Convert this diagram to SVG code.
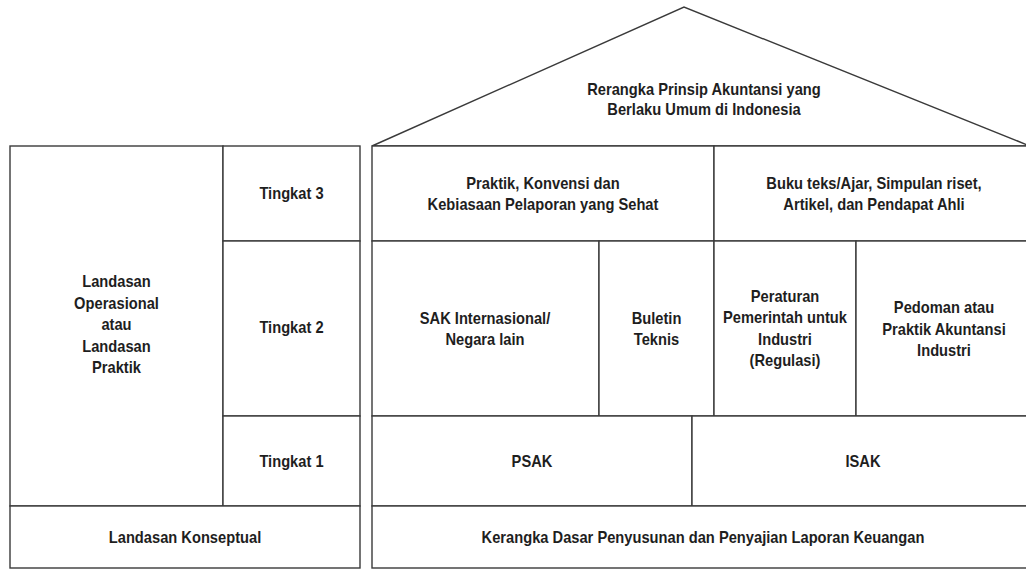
<svg xmlns="http://www.w3.org/2000/svg" width="1026" height="570" viewBox="0 0 1026 570">
<style>
.c{fill:#fff;stroke:#3a3a3a;stroke-width:1.4}
.t{font-family:"Liberation Sans",Arial,sans-serif;font-weight:bold;font-size:16.5px;fill:#1e1e1e;text-anchor:middle}
</style>
<rect width="1026" height="570" fill="#fff"/>
<g id="roof">
<polygon class="c" points="372,146 684,7 1030,146"/>
<text class="t" transform="translate(704 95) scale(.89 1)">Rerangka Prinsip Akuntansi yang</text>
<text class="t" transform="translate(704 114.5) scale(.89 1)">Berlaku Umum di Indonesia</text>
</g>
<g id="landasan-operasional">
<rect class="c" x="10" y="146" width="213" height="360"/>
<text class="t" transform="translate(116.5 287) scale(.89 1)">Landasan</text>
<text class="t" transform="translate(116.5 308.5) scale(.89 1)">Operasional</text>
<text class="t" transform="translate(116.5 330) scale(.89 1)">atau</text>
<text class="t" transform="translate(116.5 351.5) scale(.89 1)">Landasan</text>
<text class="t" transform="translate(116.5 373) scale(.89 1)">Praktik</text>
</g>
<g id="tingkat-3">
<rect class="c" x="223" y="146" width="137" height="95"/>
<text class="t" transform="translate(291.5 199) scale(.89 1)">Tingkat 3</text>
</g>
<g id="tingkat-2">
<rect class="c" x="223" y="241" width="137" height="175"/>
<text class="t" transform="translate(291.5 333) scale(.89 1)">Tingkat 2</text>
</g>
<g id="tingkat-1">
<rect class="c" x="223" y="416" width="137" height="90"/>
<text class="t" transform="translate(291.5 466.5) scale(.89 1)">Tingkat 1</text>
</g>
<g id="landasan-konseptual">
<rect class="c" x="10" y="506" width="350" height="62"/>
<text class="t" transform="translate(185 542.5) scale(.89 1)">Landasan Konseptual</text>
</g>
<g id="praktik">
<rect class="c" x="372" y="146" width="342" height="95"/>
<text class="t" transform="translate(543 189) scale(.89 1)">Praktik, Konvensi dan</text>
<text class="t" transform="translate(543 210) scale(.89 1)">Kebiasaan Pelaporan yang Sehat</text>
</g>
<g id="buku-teks">
<rect class="c" x="714" y="146" width="320" height="95"/>
<text class="t" transform="translate(874 189) scale(.89 1)">Buku teks/Ajar, Simpulan riset,</text>
<text class="t" transform="translate(874 210) scale(.89 1)">Artikel, dan Pendapat Ahli</text>
</g>
<g id="sak-internasional">
<rect class="c" x="372" y="241" width="227" height="175"/>
<text class="t" transform="translate(485 324) scale(.89 1)">SAK Internasional/</text>
<text class="t" transform="translate(485 345) scale(.89 1)">Negara lain</text>
</g>
<g id="buletin-teknis">
<rect class="c" x="599" y="241" width="115" height="175"/>
<text class="t" transform="translate(656.5 323.5) scale(.89 1)">Buletin</text>
<text class="t" transform="translate(656.5 344.5) scale(.89 1)">Teknis</text>
</g>
<g id="peraturan">
<rect class="c" x="714" y="241" width="142" height="175"/>
<text class="t" transform="translate(785 301.5) scale(.89 1)">Peraturan</text>
<text class="t" transform="translate(785 323) scale(.89 1)">Pemerintah untuk</text>
<text class="t" transform="translate(785 344.5) scale(.89 1)">Industri</text>
<text class="t" transform="translate(785 366) scale(.89 1)">(Regulasi)</text>
</g>
<g id="pedoman">
<rect class="c" x="856" y="241" width="178" height="175"/>
<text class="t" transform="translate(944 313) scale(.89 1)">Pedoman atau</text>
<text class="t" transform="translate(944 334.5) scale(.89 1)">Praktik Akuntansi</text>
<text class="t" transform="translate(944 356) scale(.89 1)">Industri</text>
</g>
<g id="psak">
<rect class="c" x="372" y="416" width="320" height="90"/>
<text class="t" transform="translate(532 466.5) scale(.89 1)">PSAK</text>
</g>
<g id="isak">
<rect class="c" x="692" y="416" width="342" height="90"/>
<text class="t" transform="translate(863 466.5) scale(.89 1)">ISAK</text>
</g>
<g id="kerangka-dasar">
<rect class="c" x="372" y="506" width="662" height="62"/>
<text class="t" transform="translate(703 542.5) scale(.89 1)">Kerangka Dasar Penyusunan dan Penyajian Laporan Keuangan</text>
</g>
</svg>
